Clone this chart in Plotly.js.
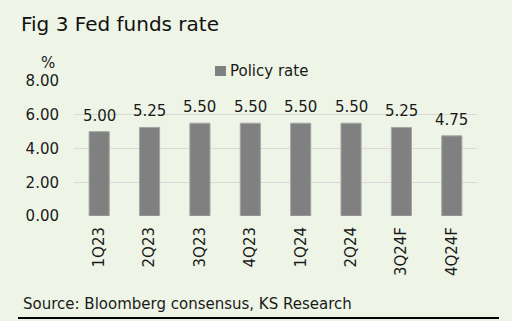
<!DOCTYPE html>
<html><head><meta charset="utf-8">
<script src="https://cdn.plot.ly/plotly-3.0.1.min.js"></script>
<style>html,body{margin:0;padding:0;background:#EEF5E6;}#c{width:512px;height:321px;}</style>
</head><body><div id="c"></div>
<script>
const categories = ["1Q23","2Q23","3Q23","4Q23","1Q24","2Q24","3Q24F","4Q24F"];
const policyRate = [5.00,5.25,5.50,5.50,5.50,5.50,5.25,4.75];
const seriesName = "Policy rate";
const yTicks = [0,2,4,6,8];
const yTickLabels = ["0.00","2.00","4.00","6.00","8.00"];

const font = "DejaVu Sans, Verdana, sans-serif";
const L=74,R=477,T=81,B=216;
const W=R-L,H=B-T;
const txt = {family:font,size:15,color:"#1a1a1a"};

const valueLabels = categories.map((c,i)=>({
  text:policyRate[i].toFixed(2), x:c, y:policyRate[i], xref:"x", yref:"y",
  yanchor:"middle", yshift:16, showarrow:false, font:txt
}));

Plotly.newPlot("c",[{
  type:"bar", x:categories, y:policyRate, name:seriesName,
  marker:{color:"#808080", line:{color:"#A6A6A6", width:1}},
  hoverinfo:"none"
}],{
  width:512,height:321,
  paper_bgcolor:"#EEF5E6", plot_bgcolor:"#EEF5E6",
  margin:{l:L,r:512-R,t:T,b:321-B,pad:0},
  bargap:0.6,
  showlegend:false,
  title:{text:"Fig 3 Fed funds rate",font:{family:font,size:20,color:"#111"},x:21/512,xanchor:"left",xref:"container",y:1-24/321,yanchor:"middle",yref:"container"},
  xaxis:{type:"category",tickangle:-90,tickfont:{family:font,size:15,color:"#1a1a1a"},showgrid:false,ticks:"",showline:false,ticklabelstandoff:7},
  yaxis:{range:[0,8],tickvals:yTicks,ticktext:yTickLabels,tickfont:txt,gridcolor:"#D9D9D9",gridwidth:1,zeroline:false,showline:false,ticks:"",ticklabelstandoff:14},
  annotations:valueLabels.concat([
    {text:"%",xref:"paper",yref:"paper",x:(39-L)/W,y:(B-63)/H,yanchor:"middle",showarrow:false,font:txt},
    {text:seriesName,xref:"paper",yref:"paper",x:(228-L)/W,xanchor:"left",y:(B-71)/H,yanchor:"middle",showarrow:false,font:txt},
    {text:"Source: Bloomberg consensus, KS Research",xref:"paper",yref:"paper",x:(21-L)/W,xanchor:"left",y:(B-304)/H,yanchor:"middle",showarrow:false,font:txt}
  ]),
  shapes:[
    {type:"rect",xref:"paper",yref:"paper",x0:(215-L)/W,x1:(226-L)/W,y0:(B-76)/H,y1:(B-66)/H,fillcolor:"#808080",line:{width:0}},
    {type:"line",xref:"paper",yref:"paper",x0:(18-L)/W,x1:(499-L)/W,y0:(B-318)/H,y1:(B-318)/H,line:{color:"#000",width:2}}
  ]
},{displayModeBar:false,staticPlot:true});
</script></body></html>
